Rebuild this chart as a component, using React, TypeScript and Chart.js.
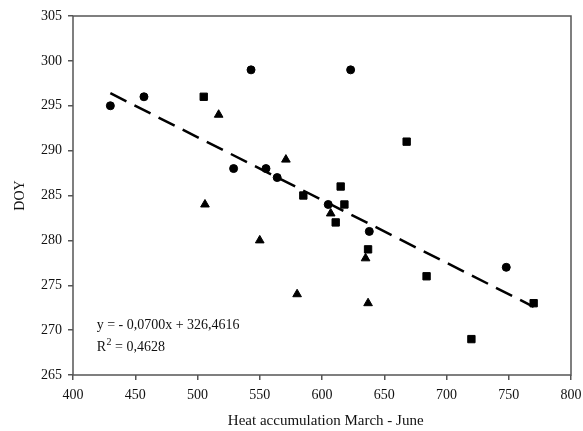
import React, { useEffect, useRef } from "react";
import { Chart, registerables } from "chart.js";

Chart.register(...registerables);

const circleX = [430, 457, 543, 529, 555, 564, 605, 623, 638, 748];
const circleY = [295, 296, 299, 288, 288, 287, 284, 299, 281, 277];
const squareX = [505, 668, 615, 585, 618, 611, 637, 684, 720, 770];
const squareY = [296, 291, 286, 285, 284, 282, 279, 276, 269, 273];
const triangleX = [517, 506, 571, 607, 550, 580, 635, 637];
const triangleY = [294, 284, 289, 283, 280, 274, 278, 273];
const trendX = [430, 770];
const trendY = [296.4, 272.6];
const xTicks = [400, 450, 500, 550, 600, 650, 700, 750, 800];
const yTicks = [265, 270, 275, 280, 285, 290, 295, 300, 305];
const xTitle = "Heat accumulation March - June";
const yTitle = "DOY";
const eqText = "y = - 0,0700x + 326,4616";
const r2Value = " = 0,4628";

const FONT = "'Liberation Serif', 'Times New Roman', serif";

function pts(xs: number[], ys: number[]) {
  return xs.map((x, i) => ({ x, y: ys[i] }));
}

const boxPlugin = {
  id: "boxAndText",
  afterDraw(chart: any) {
    const { ctx, chartArea, scales } = chart;
    ctx.save();
    ctx.strokeStyle = "#555";
    ctx.lineWidth = 1.5;
    ctx.strokeRect(chartArea.left, chartArea.top, chartArea.right - chartArea.left, chartArea.bottom - chartArea.top);
    ctx.fillStyle = "#111";
    ctx.textBaseline = "middle";
    ctx.textAlign = "left";
    ctx.font = `14px ${FONT}`;
    const tx = scales.x.getPixelForValue(419);
    const y1 = scales.y.getPixelForValue(270.57);
    const y2 = scales.y.getPixelForValue(268.1);
    ctx.fillText(eqText, tx, y1);
    ctx.fillText("R", tx, y2);
    const rw = ctx.measureText("R").width;
    ctx.font = `10px ${FONT}`;
    ctx.fillText("2", tx + rw + 0.5, y2 - 5);
    const w2 = ctx.measureText("2").width;
    ctx.font = `14px ${FONT}`;
    ctx.fillText(r2Value, tx + rw + w2 + 0.5, y2);
    // x-axis title
    ctx.font = `15px ${FONT}`;
    ctx.textAlign = "center";
    ctx.textBaseline = "alphabetic";
    ctx.fillText(xTitle, scales.x.getPixelForValue(603), chartArea.bottom + 50);
    ctx.restore();
  },
};

export default function App() {
  const ref = useRef<HTMLCanvasElement>(null);
  useEffect(() => {
    const canvas = ref.current!;
    const chart = new Chart(canvas, {
      type: "scatter",
      data: {
        datasets: [
          {
            type: "line",
            data: pts(trendX, trendY),
            borderColor: "#000",
            borderWidth: 2.5,
            borderDash: [18, 9],
            pointRadius: 0,
            fill: false,
          } as any,
          {
            data: pts(circleX, circleY),
            pointStyle: "circle",
            pointRadius: 4,
            backgroundColor: "#000",
            borderColor: "#000",
            borderWidth: 1,
          },
          {
            data: pts(squareX, squareY),
            pointStyle: "rect",
            pointRadius: 5.2,
            backgroundColor: "#000",
            borderColor: "#000",
            borderWidth: 1,
          },
          {
            data: pts(triangleX, triangleY),
            pointStyle: "triangle",
            pointRadius: 5,
            backgroundColor: "#000",
            borderColor: "#000",
            borderWidth: 1,
          },
        ],
      },
      options: {
        responsive: false,
        animation: false,
        layout: { padding: { top: 16, right: 12, left: 0, bottom: 0 } },
        plugins: { legend: { display: false }, tooltip: { enabled: false } },
        scales: {
          x: {
            type: "linear",
            min: xTicks[0],
            max: xTicks[xTicks.length - 1],
            afterBuildTicks: (s: any) => { s.ticks = xTicks.map((v) => ({ value: v })); },
            afterFit: (s: any) => { s.height = 56; s.paddingRight = 0; s.paddingLeft = 0; },
            ticks: { color: "#111", padding: 7, font: { family: FONT, size: 14 }, maxRotation: 0 },
            grid: { display: true, drawOnChartArea: false, drawTicks: true, tickLength: 5, color: "#555", lineWidth: 1.5 },
            border: { display: false },
            title: { display: false },
          },
          y: {
            type: "linear",
            min: yTicks[0],
            max: yTicks[yTicks.length - 1],
            afterBuildTicks: (s: any) => { s.ticks = yTicks.map((v) => ({ value: v })); },
            afterFit: (s: any) => { s.width = 73; s.paddingTop = 0; s.paddingBottom = 0; },
            ticks: { color: "#111", padding: 6, font: { family: FONT, size: 14 } },
            grid: { display: true, drawOnChartArea: false, drawTicks: true, tickLength: 5, color: "#555", lineWidth: 1.5 },
            border: { display: false },
            title: { display: true, text: yTitle, color: "#111", font: { family: FONT, size: 14 }, padding: { top: 12, bottom: 0 } },
          },
        },
      } as any,
      plugins: [boxPlugin],
    });
    return () => chart.destroy();
  }, []);
  return (
    <div style={{ position: "fixed", left: 0, top: 0, width: 583, height: 431, background: "#fff" }}>
      <canvas ref={ref} width={583} height={431} />
    </div>
  );
}
